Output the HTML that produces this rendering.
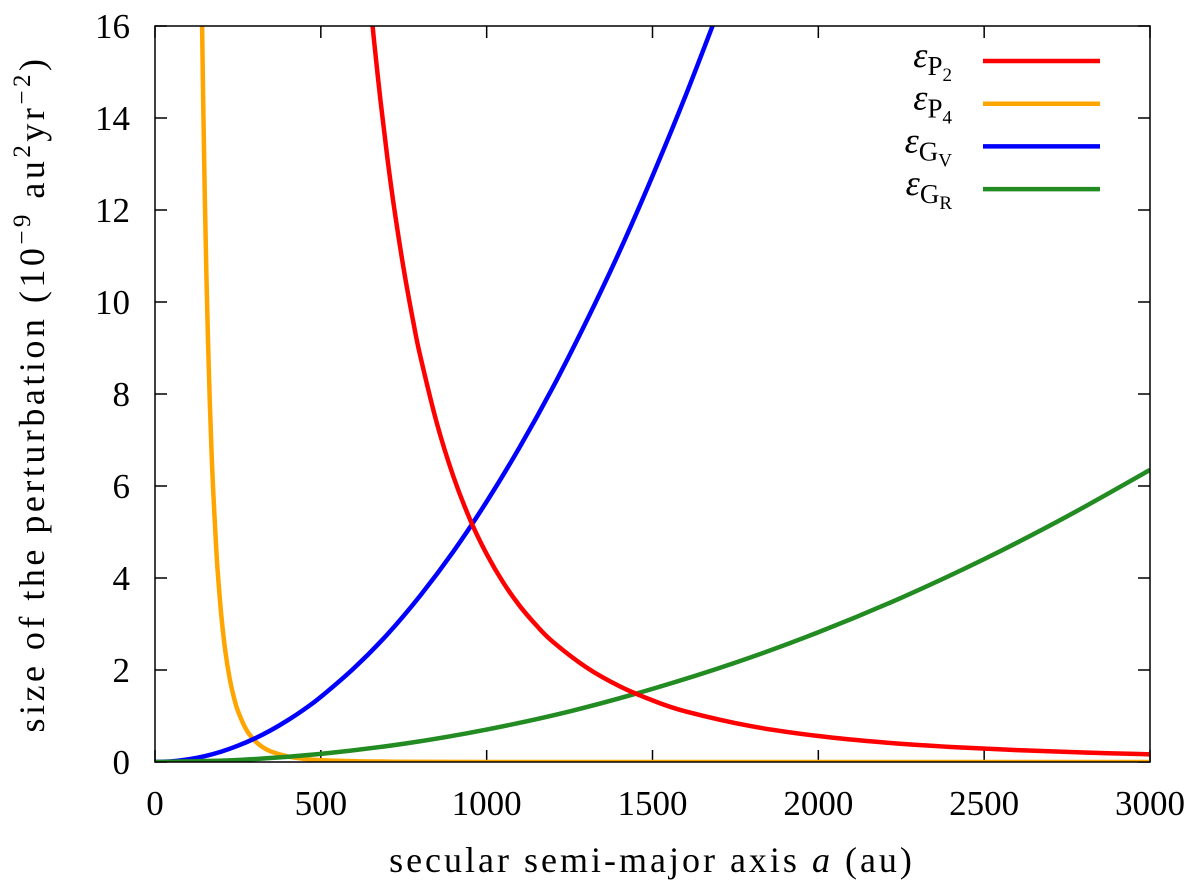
<!DOCTYPE html>
<html><head><meta charset="utf-8"><style>
body{margin:0;background:#fff}
svg{display:block;font-family:"Liberation Serif",serif}
</style></head><body>
<svg id="chart" width="1200" height="892">
<defs><clipPath id="clip"><rect x="155" y="26" width="995" height="736"/></clipPath></defs>
<g id="axes"></g>
<g id="series" clip-path="url(#clip)"></g>
<rect x="155" y="26" width="995" height="736" fill="none" stroke="#000" stroke-width="1.5"/>
<text x="44" y="394" font-size="36" letter-spacing="3.5" text-anchor="middle" transform="rotate(-90 44 394)">size of the perturbation (10<tspan dy="-14" font-size="25">−9</tspan><tspan dy="14"> au</tspan><tspan dy="-14" font-size="25">2</tspan><tspan dy="14">yr</tspan><tspan dy="-14" font-size="25">−2</tspan><tspan dy="14">)</tspan></text>
<text x="652" y="872" font-size="36" letter-spacing="3" text-anchor="middle">secular semi-major axis <tspan font-style="italic">a</tspan> (au)</text>
<g id="legend"></g>
</svg>
<script>
const xTicks=[0,500,1000,1500,2000,2500,3000];
const yTicks=[0,2,4,6,8,10,12,14,16];
const aP2=[650,660,680,700,720,750,780,800,850,900,950,1000,1050,1100,1150,1200,1300,1400,1500,1600,1800,2000,2200,2400,2600,2800,3000];
const vP2=[16.45,15.71,14.37,13.17,12.10,10.71,9.52,8.82,7.36,6.20,5.27,4.52,3.90,3.39,2.97,2.61,2.06,1.65,1.34,1.10,0.775,0.565,0.424,0.327,0.257,0.206,0.167];
const aP4=[140,145,150,155,160,165,170,175,185,190,200,212,225,237,250,275,300,325,350,400,450,500,600,700,1000,3000];
const vP4=[17.1,14.49,12.35,10.58,9.11,7.88,6.84,5.97,4.59,4.05,3.18,2.41,1.82,1.43,1.11,0.707,0.469,0.321,0.227,0.121,0.069,0.042,0.018,0.009,0.001,0];
const aGV=[0,50,100,150,200,250,300,350,400,450,500,600,700,800,900,1000,1100,1200,1300,1400,1500,1600,1700];
const vGV=[0,0.014,0.057,0.127,0.226,0.354,0.509,0.693,0.906,1.146,1.415,2.04,2.77,3.62,4.58,5.66,6.85,8.15,9.57,11.09,12.74,14.49,16.36];
const aGR=[0,250,500,750,1000,1250,1500,1750,2000,2250,2500,2750,3000];
const vGR=[0,0.044,0.177,0.397,0.706,1.10,1.59,2.16,2.82,3.57,4.41,5.34,6.35];
const seriesNames=["P2","P4","GV","GR"];
const NS="http://www.w3.org/2000/svg";
const X=a=>155+a*995/3000, Y=v=>762-v*46;
function mk(tag,at,parent){const e=document.createElementNS(NS,tag);for(const k in at)e.setAttribute(k,at[k]);parent.appendChild(e);return e;}
const axes=document.getElementById('axes');
xTicks.forEach(t=>{
 const l1=mk('line',{x1:X(t),x2:X(t),y1:762,y2:750,stroke:'#000','stroke-width':1.5},axes);
 
 
 const l2=mk('line',{x1:X(t),x2:X(t),y1:26,y2:38,stroke:'#000','stroke-width':1.5},axes);
 
 
 const tx=mk('text',{x:X(t),y:815,'font-size':35,'text-anchor':'middle'},axes);tx.textContent=t;
 
 
});
yTicks.forEach(t=>{
 const l1=mk('line',{x1:155,x2:167,y1:Y(t),y2:Y(t),stroke:'#000','stroke-width':1.5},axes);
 
 
 const l2=mk('line',{x1:1150,x2:1138,y1:Y(t),y2:Y(t),stroke:'#000','stroke-width':1.5},axes);
 
 
 const tx=mk('text',{x:130,y:Y(t)+12,'font-size':35,'text-anchor':'end'},axes);tx.textContent=t;
 
 
});
function path(as,vs){const p=as.map((a,i)=>[X(a),Y(vs[i])]);let d='M'+p[0][0]+','+p[0][1];
 for(let i=0;i<p.length-1;i++){const p0=p[Math.max(0,i-1)],p1=p[i],p2=p[i+1],p3=p[Math.min(p.length-1,i+2)];
 const c1=[p1[0]+(p2[0]-p0[0])/6,p1[1]+(p2[1]-p0[1])/6],c2=[p2[0]-(p3[0]-p1[0])/6,p2[1]-(p3[1]-p1[1])/6];
 d+=' C'+c1+' '+c2+' '+p2;}return d;}
const ser=document.getElementById('series');
const defs=[[aP4,vP4,'#ffa500','curve-p4'],[aGV,vGV,'#0000ff','curve-gv'],[aGR,vGR,'#228b22','curve-gr'],[aP2,vP2,'#ff0000','curve-p2']];
defs.forEach(s=>{const e=mk('path',{d:path(s[0],s[1]),fill:'none',stroke:s[2],'stroke-width':4.5,'stroke-linejoin':'round'},ser);
 
 });
const leg=document.getElementById('legend');
const lc=['#ff0000','#ffa500','#0000ff','#228b22'],ls=['P','P','G','G'],lsub=['2','4','V','R'];
seriesNames.forEach((n,i)=>{const y=61+i*42.7;
 const t=mk('text',{x:952,y:y+6,'font-size':36,'text-anchor':'end'},leg);
 t.innerHTML='<tspan font-style="italic">ε</tspan><tspan dy="8" font-size="27">'+ls[i]+'</tspan><tspan dy="6" font-size="19">'+lsub[i]+'</tspan>';
 
 
 const l=mk('line',{x1:983,x2:1100,y1:y,y2:y,stroke:lc[i],'stroke-width':4.5},leg);
 
 });
</script>
</body></html>
